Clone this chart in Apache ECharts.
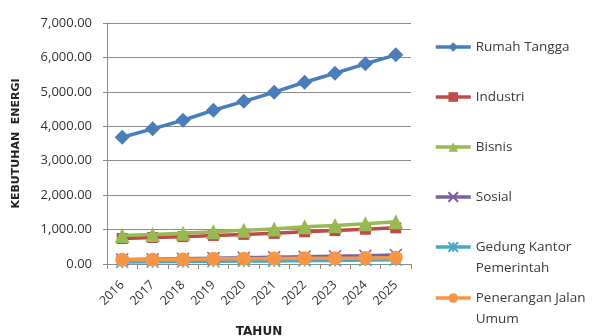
<!DOCTYPE html>
<html>
<head>
<meta charset="utf-8">
<script src="https://cdn.jsdelivr.net/npm/echarts@6/dist/echarts.min.js"></script>
<style>
  html, body { margin: 0; padding: 0; background: #fff; }
  #chart { width: 595px; height: 336px; }
</style>
</head>
<body>
<div id="chart"></div>
<script>
// Energy demand projection per customer sector, 2016–2025
const years = ['2016', '2017', '2018', '2019', '2020', '2021', '2022', '2023', '2024', '2025'];

const rumahTangga = [3680, 3925, 4175, 4465, 4725, 4990, 5280, 5540, 5815, 6075];
const industri    = [740, 770, 795, 830, 860, 890, 935, 970, 1010, 1050];
const bisnis      = [830, 860, 890, 940, 980, 1020, 1080, 1120, 1170, 1230];
const sosial      = [130, 140, 150, 170, 180, 195, 210, 225, 240, 260];
const gedung      = [60, 65, 70, 80, 85, 90, 100, 105, 115, 125];
const pju         = [120, 125, 130, 150, 155, 160, 165, 170, 175, 185];

const yTicks = { min: 0, max: 7000, interval: 1000 };

const seriesNames = [
  'Rumah Tangga', 'Industri', 'Bisnis', 'Sosial',
  'Gedung Kantor\nPemerintah', 'Penerangan Jalan\nUmum'
];

// marker glyphs for the two star-like series
const xMark = 'path://M0,0 L10,10 M10,0 L0,10';
const starMark = 'path://M0,0 L10,10 M10,0 L0,10 M5,0 L5,10';

const styles = [
  { color: '#4A7EBB', symbol: 'diamond', size: 15 },
  { color: '#BE4B48', symbol: 'rect', size: 11 },
  { color: '#98B954', symbol: 'triangle', size: 15 },
  { color: '#7D60A0', symbol: xMark, size: 12, stroke: true },
  { color: '#46AAC5', symbol: starMark, size: 12, stroke: true },
  { color: '#F79646', symbol: 'circle', size: 14 }
];

const values = [rumahTangga, industri, bisnis, sosial, gedung, pju];

// later series are painted over earlier ones
const series = values.map((v, i) => {
  const s = styles[i];
  return {
    name: seriesNames[i],
    type: 'line',
    data: v,
    symbol: s.symbol,
    symbolSize: s.size,
    lineStyle: { color: s.color, width: 3.5 },
    itemStyle: s.stroke
      ? { color: 'none', borderColor: s.color, borderWidth: 1.5 }
      : { color: s.color, borderWidth: 0 },
    emphasis: { disabled: true },
    animation: false,
    z: 2 + i
  };
});

// one legend block per series; wrapped names keep the icon beside their first line
const LINE_H = 21;
const legendCenters = [47, 97, 147, 197, 247, 298];
const legends = seriesNames.map((n, i) => {
  const wrapped = n.indexOf('\n') >= 0;
  return {
    orient: 'vertical',
    left: 434,
    top: legendCenters[i] - (wrapped ? LINE_H * 1.5 : LINE_H / 2),
    padding: 0,
    itemWidth: 35,
    itemHeight: 12,
    itemGap: 0,
    data: [n],
    formatter: name => (wrapped ? '\n' + name : name),
    lineStyle: { width: 3.5 },
    textStyle: {
      fontFamily: 'Open Sans',
      fontSize: 13.5,
      color: '#3a3a3a',
      lineHeight: LINE_H
    },
    selectedMode: false
  };
});

const chart = echarts.init(document.getElementById('chart'), null, { renderer: 'canvas' });
chart.setOption({
  backgroundColor: '#ffffff',
  animation: false,
  grid: { left: 107, right: 184, top: 23, bottom: 72, outerBoundsMode: 'none', containLabel: false },
  legend: legends,
  xAxis: {
    type: 'category',
    data: years,
    boundaryGap: true,
    name: 'TAHUN',
    nameLocation: 'middle',
    nameGap: 62,
    nameTextStyle: { fontFamily: 'DejaVu Sans', fontWeight: 'bold', fontSize: 12, color: '#222' },
    axisLine: { lineStyle: { color: '#8c8c8c', width: 1 } },
    axisTick: { show: true, alignWithLabel: false, length: 5, lineStyle: { color: '#8c8c8c' } },
    axisLabel: {
      rotate: 45,
      interval: 0,
      margin: 19,
      fontFamily: 'Open Sans',
      fontSize: 12.5,
      color: '#333'
    }
  },
  yAxis: {
    type: 'value',
    min: yTicks.min,
    max: yTicks.max,
    interval: yTicks.interval,
    name: 'KEBUTUHAN  ENERGI',
    nameLocation: 'middle',
    nameGap: 85,
    nameTextStyle: { fontFamily: 'DejaVu Sans', fontWeight: 'bold', fontSize: 11, color: '#222' },
    axisLine: { show: true, lineStyle: { color: '#8c8c8c', width: 1 } },
    axisTick: { show: true, length: 4, lineStyle: { color: '#8c8c8c' } },
    splitLine: { lineStyle: { color: '#8c8c8c', width: 1 } },
    axisLabel: {
      margin: 15,
      fontFamily: 'Open Sans',
      fontSize: 13,
      color: '#333',
      formatter: v => v.toLocaleString('en-US', { minimumFractionDigits: 2, maximumFractionDigits: 2 })
    }
  },
  series: series
});
</script>
</body>
</html>
